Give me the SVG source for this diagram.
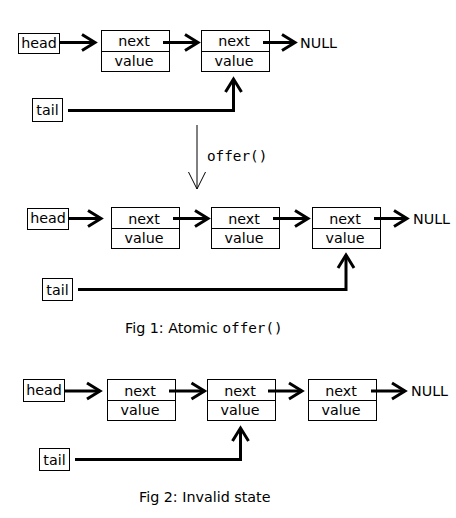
<svg xmlns="http://www.w3.org/2000/svg" width="456" height="518" viewBox="0 0 456 518">
<style>
text{font-family:"DejaVu Sans","Noto Sans",sans-serif;font-size:14.3px;fill:#000}
.c{text-anchor:middle}
.mono{font-family:"DejaVu Sans Mono","Liberation Mono",monospace}
rect,.div{fill:#fff;stroke:#000;stroke-width:1}
.arr{fill:none;stroke:#000;stroke-width:3;marker-end:url(#chev)}
</style>
<defs>
<marker id="chev" markerUnits="userSpaceOnUse" markerWidth="20" markerHeight="20" viewBox="-16 -10 20 20" refX="0" refY="0" orient="auto" overflow="visible">
<path d="M-13,-8 L0,0 L-13,8" fill="none" stroke="#000" stroke-width="3"/>
</marker>
<marker id="thin" markerUnits="userSpaceOnUse" markerWidth="20" markerHeight="20" viewBox="-18 -10 20 20" refX="0" refY="0" orient="auto" overflow="visible">
<path d="M-17,-8.5 L0,0 L-17,8.5" fill="none" stroke="#000" stroke-width="1"/>
</marker>
</defs>

<!-- Figure top (before offer) -->
<g id="a-head"><rect x="18.5" y="33.5" width="41" height="20"/><text class="c" x="39" y="47.5">head</text></g>
<g id="a-node1"><rect x="101.5" y="30.5" width="68" height="41"/><line class="div" x1="101.5" y1="51.5" x2="169.5" y2="51.5"/><text class="c" x="134" y="46">next</text><text class="c" x="134" y="65.5">value</text></g>
<g id="a-node2"><rect x="201.5" y="30.5" width="68" height="41"/><line class="div" x1="201.5" y1="51.5" x2="269.5" y2="51.5"/><text class="c" x="234" y="46">next</text><text class="c" x="234" y="65.5">value</text></g>
<g id="a-null"><text x="300" y="47.5">NULL</text></g>
<g id="a-tail"><rect x="32.5" y="98.5" width="30" height="23"/><text class="c" x="47.5" y="115">tail</text></g>

<g id="offer"><line x1="197" y1="125" x2="197" y2="189" stroke="#000" stroke-width="1" marker-end="url(#thin)"/><text class="mono" x="207" y="161">offer()</text></g>

<!-- Figure 1 -->
<g id="b-head"><rect x="27.5" y="208.5" width="41" height="21"/><text class="c" x="48" y="223">head</text></g>
<g id="b-node1"><rect x="111.5" y="207.5" width="68" height="41"/><line class="div" x1="111.5" y1="228.5" x2="179.5" y2="228.5"/><text class="c" x="144" y="223.5">next</text><text class="c" x="144" y="243">value</text></g>
<g id="b-node2"><rect x="211.5" y="207.5" width="68" height="41"/><line class="div" x1="211.5" y1="228.5" x2="279.5" y2="228.5"/><text class="c" x="244" y="223.5">next</text><text class="c" x="244" y="243">value</text></g>
<g id="b-node3"><rect x="312.5" y="207.5" width="68" height="41"/><line class="div" x1="312.5" y1="228.5" x2="380.5" y2="228.5"/><text class="c" x="345" y="223.5">next</text><text class="c" x="345" y="243">value</text></g>
<g id="b-null"><text x="413" y="224">NULL</text></g>
<g id="b-tail"><rect x="42.5" y="278.5" width="30" height="22"/><text class="c" x="57.5" y="295">tail</text></g>
<g id="cap1"><text x="125" y="333">Fig 1: Atomic <tspan class="mono">offer()</tspan></text></g>

<!-- Figure 2 -->
<g id="c-head"><rect x="23.5" y="379.5" width="41" height="22"/><text class="c" x="44" y="395">head</text></g>
<g id="c-node1"><rect x="107.5" y="379.5" width="68" height="41"/><line class="div" x1="107.5" y1="400.5" x2="175.5" y2="400.5"/><text class="c" x="140" y="395.5">next</text><text class="c" x="140" y="415">value</text></g>
<g id="c-node2"><rect x="207.5" y="379.5" width="68" height="41"/><line class="div" x1="207.5" y1="400.5" x2="275.5" y2="400.5"/><text class="c" x="240" y="395.5">next</text><text class="c" x="240" y="415">value</text></g>
<g id="c-node3"><rect x="308.5" y="379.5" width="68" height="41"/><line class="div" x1="308.5" y1="400.5" x2="376.5" y2="400.5"/><text class="c" x="341" y="395.5">next</text><text class="c" x="341" y="415">value</text></g>
<g id="c-null"><text x="411" y="396">NULL</text></g>
<g id="c-tail"><rect x="39.5" y="448.5" width="30" height="22"/><text class="c" x="54.5" y="465">tail</text></g>
<g id="cap2"><text x="139" y="502">Fig 2: Invalid state</text></g>

<g id="connectors">
<path class="arr" d="M59.5,42.5 H95"/>
<path class="arr" d="M163,42.5 H198"/>
<path class="arr" d="M263,42.5 H295"/>
<path class="arr" d="M68,110.5 H233.5 V79"/>

<path class="arr" d="M68.5,218.5 H101"/>
<path class="arr" d="M173,218.5 H208"/>
<path class="arr" d="M273,218.5 H308"/>
<path class="arr" d="M374,218.5 H407"/>
<path class="arr" d="M78,289.5 H346 V255"/>

<path class="arr" d="M64.5,391 H100"/>
<path class="arr" d="M169,391 H204.5"/>
<path class="arr" d="M268,391 H302"/>
<path class="arr" d="M371,391 H405"/>
<path class="arr" d="M75,459.5 H240.5 V428"/>
</g>
</svg>
